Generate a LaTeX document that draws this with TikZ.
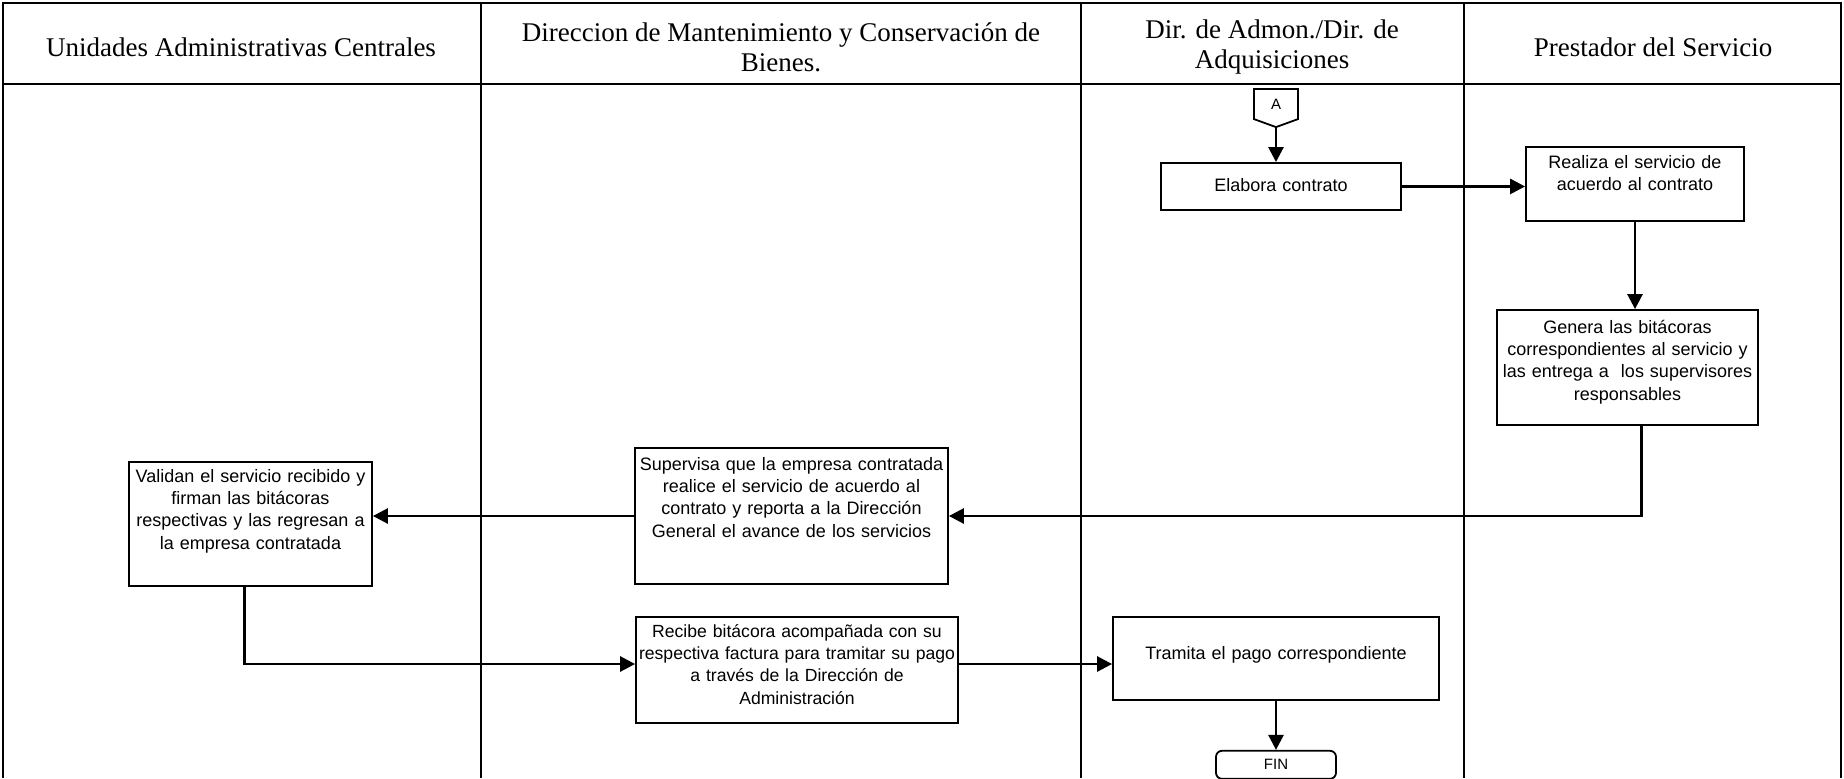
\documentclass[tikz,border=0pt]{standalone}
\usepackage{fontspec}
\setmainfont{Liberation Serif}
\newfontfamily\boxfont{Liberation Sans}
\usetikzlibrary{
  arrows.meta,
  positioning,
  shapes.symbols
}

\begin{document}
\begin{tikzpicture}[
  x=0.5pt, y=-0.5pt,
  lane/.style={line width=1.1pt},
  lanehead/.style={
    font=\fontsize{13.5}{15}\selectfont, align=center
  },
  stepbox/.style={
    draw, line width=0.9pt, inner sep=0pt, anchor=base,
    font=\boxfont\fontsize{9}{11.2}\selectfont, align=center
  },
  connector/.style={
    signal, signal to=south, signal pointer angle=140,
    draw, line width=0.9pt, minimum width=22pt, minimum height=16pt,
    inner sep=0pt, font=\boxfont\fontsize{7.5}{9}\selectfont
  },
  terminal/.style={
    draw, line width=0.9pt, rounded corners=3pt,
    minimum width=60pt, minimum height=14pt, inner sep=0pt,
    font=\boxfont\fontsize{7.5}{9}\selectfont
  },
  flow/.style={line width=1.35pt, -{Triangle[length=7.5pt,width=7.5pt]}}
]
\useasboundingbox (0,0) rectangle (1844,778);

% ---- Lanes ----
\draw[lane] (3,778) -- (3,3) -- (1841,3) -- (1841,778);
\draw[lane] (3,84) -- (1841,84);
\foreach \x in {481,1081,1464}
  \draw[lane] (\x,3) -- (\x,778);

\node[lanehead] (h1) at (241,47) {Unidades Administrativas Centrales};
\node[lanehead] (h2) at (781,47) {Direccion de Mantenimiento y Conservación de\\Bienes.};
\node[lanehead] (h3) at (1272,47) {Dir. de Admon./Dir. de\\Adquisiciones};
\node[lanehead] (h4) at (1653,47) {Prestador del Servicio};

% ---- Steps ----
\node[connector] (A) at (1276,104) {A};
\node[stepbox, text width=120pt, text height=14.5pt, text depth=9pt,
  below=17pt of A, xshift=2.5pt] (elab) {Elabora contrato};
\node[stepbox, text width=109pt, text height=10.5pt, text depth=26.5pt]
  (real) at (1635,168) {Realiza el servicio de\\acuerdo al contrato};
\node[stepbox, text width=130.5pt, text height=11.5pt, text depth=46pt]
  (gen) at (1627.5,333) {Genera las bitácoras\\correspondientes al servicio y\\las entrega a~ los supervisores\\responsables};
\node[stepbox, text width=156.5pt, text height=11pt, text depth=57pt]
  (sup) at (791.5,470) {Supervisa que la empresa contratada\\realice el servicio de acuerdo al\\contrato y reporta a la Dirección\\General el avance de los servicios};
\node[stepbox, text width=121.5pt, text height=10pt, text depth=52pt]
  (val) at (250.5,482) {Validan el servicio recibido y\\firman las bitácoras\\respectivas y las regresan a\\la empresa contratada};
\node[stepbox, font=\boxfont\fontsize{8.8}{11.2}\selectfont,
  text width=168pt, inner xsep=-3.5pt, text height=10pt, text depth=43pt]
  (rec) at (797,637) {Recibe bitácora acompañada con su\\respectiva factura para tramitar su pago\\a través de la Dirección de\\Administración};
\node[stepbox, text width=163pt, text height=21pt, text depth=20.5pt]
  (tram) at (1276,659) {Tramita el pago correspondiente};
\node[terminal, below=24.5pt of tram] (fin) {FIN};

% ---- Flow ----
\draw[flow] (A.south) -- (A.south |- elab.north);
\draw[flow] (elab.east) -- (real.west |- elab.east);
\draw[flow] (real.south) -- (real.south |- gen.north);
\draw[flow] ([xshift=7pt]gen.south) |- (sup.east);
\draw[flow] (sup.west) -- (val.east |- sup.west);
\draw[flow] ([xshift=-3pt]val.south) |- ([yshift=3pt]rec.west);
\draw[flow] ([yshift=3pt]rec.east) -- ([yshift=3pt]rec.east -| tram.west);
\draw[flow] (tram.south) -- (fin.north);

\end{tikzpicture}
\end{document}
